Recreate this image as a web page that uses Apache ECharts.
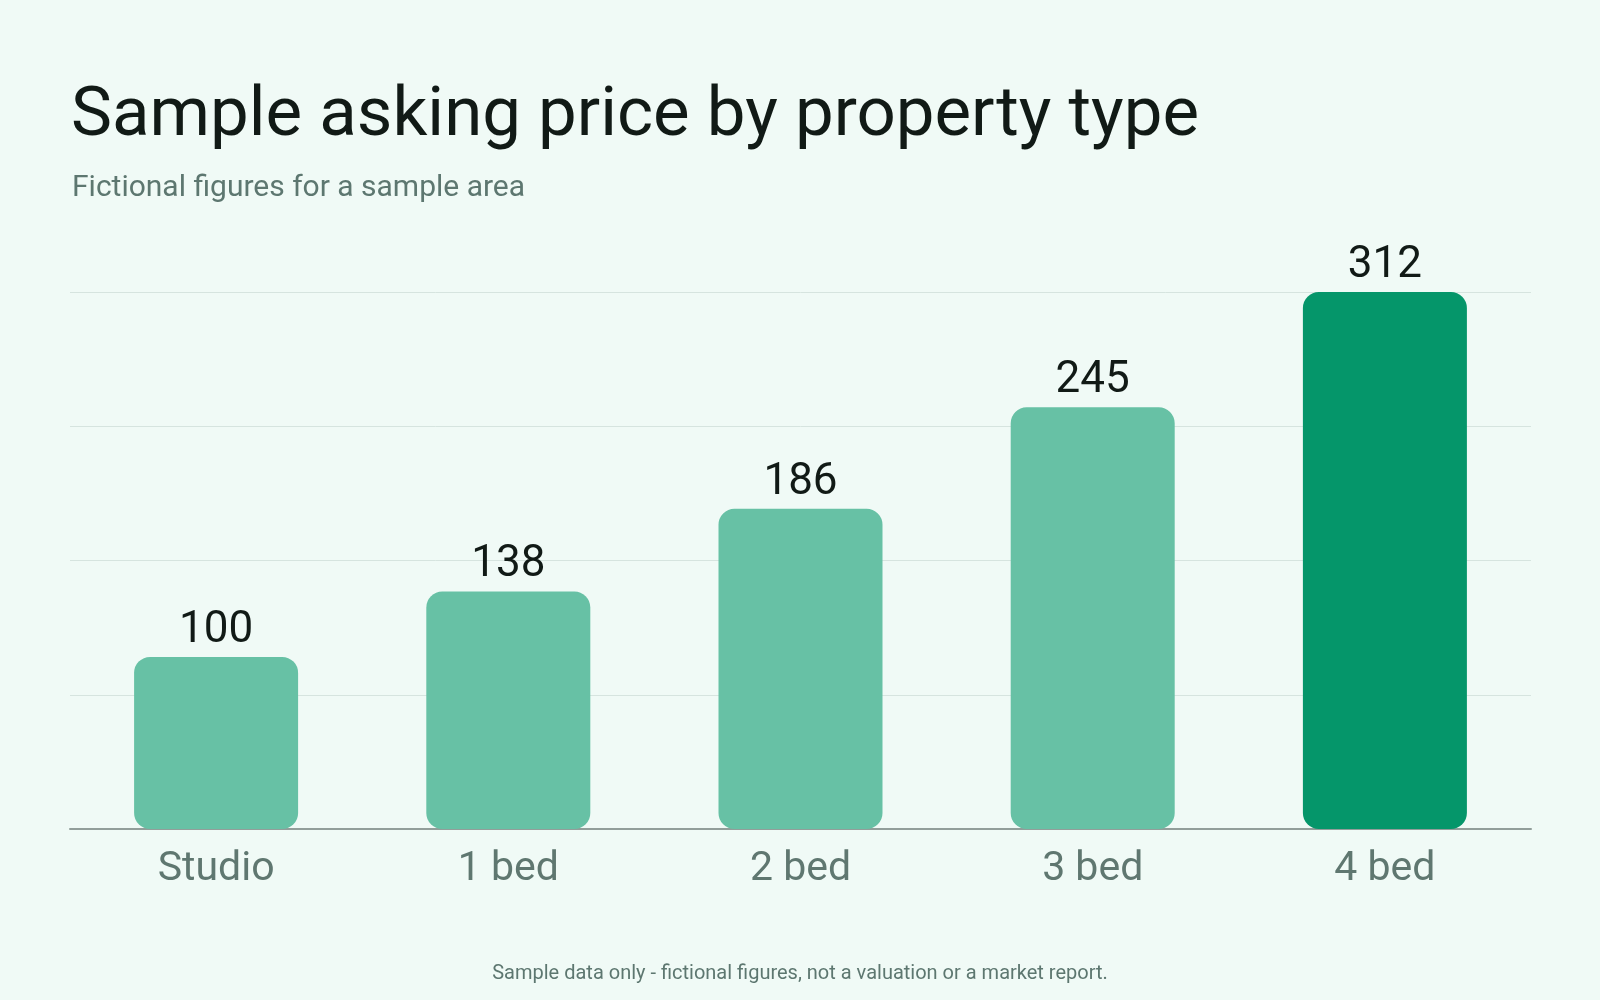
<!DOCTYPE html>
<html>
<head>
<meta charset="utf-8">
<style>
  html, body { margin: 0; padding: 0; background: #f0faf6; }
  #chart-container { width: 1600px; height: 1000px; }
</style>
<script src="https://cdn.jsdelivr.net/npm/echarts@6/dist/echarts.min.js"></script>
</head>
<body>
<div id="chart-container"></div>
<script>
const categories = ["Studio", "1 bed", "2 bed", "3 bed", "4 bed"];
const prices = [100, 138, 186, 245, 312];
const highlightIndex = 4;

const dom = document.getElementById("chart-container");
const myChart = echarts.init(dom, null, { renderer: "canvas" });

const font = "Roboto";

const option = {
  backgroundColor: "#f0faf6",
  animation: false,
  title: [
    {
      text: "Sample asking price by property type",
      left: 66,
      top: 78,
      textStyle: { fontFamily: font, fontSize: 69, fontWeight: "normal", color: "#111a16" },
    },
    {
      text: "Fictional figures for a sample area",
      left: 67,
      top: 168,
      textStyle: { fontFamily: font, fontSize: 30, fontWeight: "normal", color: "#5d7770" },
    },
    {
      text: "Sample data only - fictional figures, not a valuation or a market report.",
      left: "center",
      top: 959,
      textStyle: { fontFamily: font, fontSize: 20, fontWeight: "normal", color: "#5d7770" },
    },
  ],
  grid: { left: 70, right: 69, top: 292, bottom: 171, containLabel: false },
  xAxis: {
    type: "category",
    data: categories,
    axisLine: { lineStyle: { color: "#929e9a", width: 2 } },
    axisTick: { show: false },
    axisLabel: { fontFamily: font, fontSize: 41, color: "#5f7770", margin: 20 },
  },
  yAxis: {
    type: "value",
    min: 0,
    max: 312,
    interval: 78,
    axisLabel: { show: false },
    axisLine: { show: false },
    axisTick: { show: false },
    splitLine: { lineStyle: { color: "#d6e4df", width: 1 } },
  },
  series: [
    {
      type: "bar",
      barWidth: 164,
      data: prices.map((v, i) => ({
        value: v,
        itemStyle: { color: i === highlightIndex ? "#05966a" : "#67c1a5" },
      })),
      itemStyle: { borderRadius: 16 },
      label: {
        show: true,
        position: "top",
        distance: 4,
        fontFamily: font,
        fontSize: 44,
        color: "#111a16",
      },
    },
  ],
};

myChart.setOption(option);
window.addEventListener("resize", myChart.resize);
</script>
</body>
</html>
